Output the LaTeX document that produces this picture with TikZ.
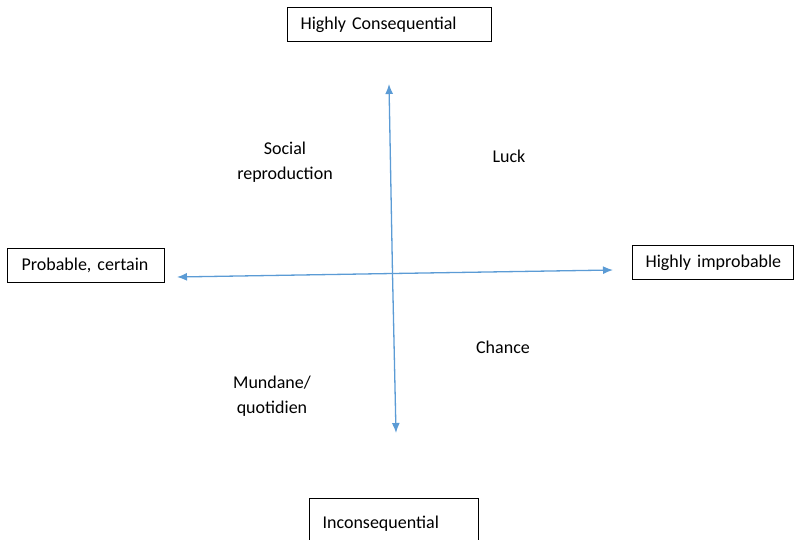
\documentclass[tikz,border=0pt]{standalone}
\usepackage{fontspec}
\setmainfont{Carlito}
\usetikzlibrary{arrows.meta}
\definecolor{axisblue}{RGB}{91,155,213}
\tikzset{
	quadbox/.style={draw, line width=1.2pt, inner xsep=13pt, inner ysep=0pt, minimum height=34pt, align=left, anchor=north west, font=\fontsize{18}{21}\selectfont},
	quadlabel/.style={align=center, font=\fontsize{18}{24.5}\selectfont},
	axis/.style={draw=axisblue, line width=1.3pt, -{Latex[length=10pt,width=8pt]}}}

\begin{document}
\begin{tikzpicture}[x=1pt,y=1pt,yscale=-1,xscale=1]
	\useasboundingbox (0,0) rectangle (796,539);

	% Boxes
	\node (cons) [quadbox, text width=178pt] at (287,7) {\mbox{Highly Consequential}};
	\node (prob) [quadbox, text width=129pt, inner xsep=14pt] at (7,248) {\mbox{Probable, certain}};
	\node (impr) [quadbox, text width=135pt] at (632,245) {\mbox{Highly improbable}};
	\node (incons) [quadbox, text width=143pt, minimum height=50pt] at (309,498) {\mbox{Inconsequential}};

	% Axis ends
	\coordinate (top) at (389,84);
	\coordinate (bottom) at (396,433);
	\coordinate (left) at (177,277);
	\coordinate (right) at (613,270);
	\coordinate (mid) at (392.5,273.5);

	% Axes
	\draw [axis] (mid) -- (top);
	\draw [axis] (mid) -- (bottom);
	\draw [axis] (mid) -- (left);
	\draw [axis] (mid) -- (right);

	% Quadrant labels
	\node (social) [quadlabel] at (285,162) {Social\\reproduction};
	\node (luck) [quadlabel] at (509,156) {Luck};
	\node (chance) [quadlabel] at (503,347) {Chance};
	\node (mundane) [quadlabel] at (272,396) {Mundane/\\quotidien};
\end{tikzpicture}
\end{document}
